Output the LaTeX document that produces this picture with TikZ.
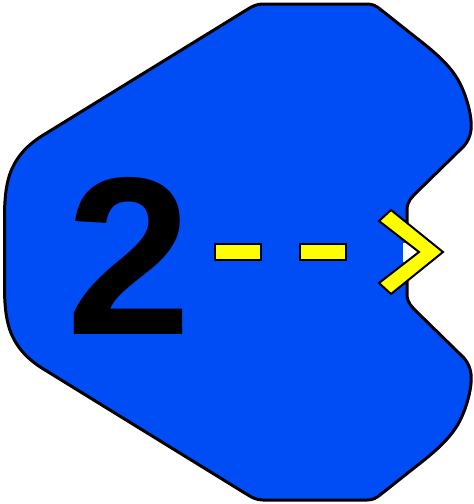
\documentclass[tikz,border=0pt]{standalone}
\usepackage{fontspec}
\setmainfont{Liberation Sans}
\usepackage{tikz}
\definecolor{padBlue}{RGB}{0, 76, 245}
\definecolor{dashYellow}{RGB}{255, 255, 0}

\tikzset{
  padshape/.style={fill=padBlue, draw=black, line width=3pt, line join=round},
  dashouter/.style={black, line width=18pt, dash pattern=on 48pt off 37pt},
  dashinner/.style={dashYellow, line width=14pt, dash pattern=on 44pt off 41pt, dash phase=83pt},
  chevron/.style={fill=dashYellow, draw=black, line width=2pt, line join=miter}
}

\begin{document}
\begin{tikzpicture}[x=1pt, y=-1pt]
  \useasboundingbox (0,0) rectangle (474,504);

  % blue outline, symmetric about y=252, notch on the right
  \draw[padshape] (263,4) -- (367,4) .. controls (373,4) and (376,6) .. (380,9)
    -- (414,36) .. controls (440,56) and (455,70) .. (463,90)
    .. controls (470,107) and (472,122) .. (471,130)
    .. controls (470,137) and (468,141) .. (464,146)
    -- (418,191) .. controls (412,197) and (407,201) .. (407,210)
    -- (407,294) .. controls (407,303) and (412,307) .. (418,313)
    -- (464,358) .. controls (468,363) and (470,367) .. (471,374)
    .. controls (472,382) and (470,397) .. (463,414)
    .. controls (455,434) and (440,448) .. (414,468)
    -- (380,495) .. controls (376,498) and (373,500) .. (367,500)
    -- (263,500) .. controls (257,500) and (253,498) .. (248,495)
    -- (45,370) .. controls (30,361) and (18,350) .. (11,333)
    .. controls (5,318) and (4.5,300) .. (4.5,285)
    -- (4.5,219) .. controls (4.5,204) and (5,186) .. (11,171)
    .. controls (18,154) and (30,143) .. (45,134)
    -- (248,9) .. controls (253,6) and (257,4) .. (263,4) -- cycle;

  \node[anchor=base, inner sep=0pt, font=\fontsize{225}{225}\selectfont\bfseries] (two) at (129,334) {2};

  \coordinate (from) at (214,252);
  \coordinate (to) at (347,252);
  \coordinate (tip) at (443,252);

  % dashed shaft: black pass, then yellow pass
  \draw[dashouter] (from) -- (to);
  \draw[dashinner] (from) -- (to);

  % head
  \fill[white] (403,243) rectangle (411,262);
  \draw[chevron] (379,221) -- (391,210) -- (tip) -- (391,294) -- (379,283) -- (419,252) -- cycle;
\end{tikzpicture}
\end{document}
